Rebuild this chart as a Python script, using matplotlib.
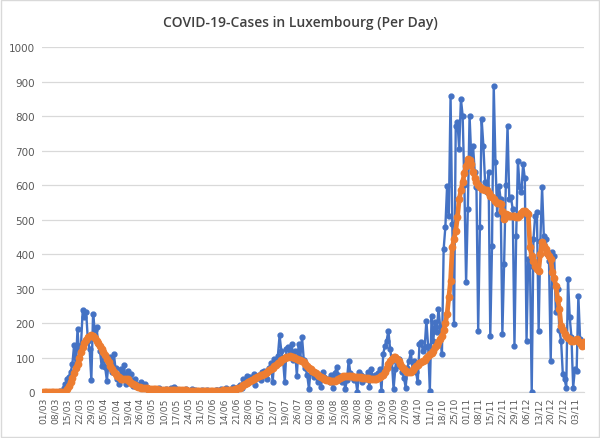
import numpy as np
import matplotlib
matplotlib.use("Agg")
import matplotlib.pyplot as plt
from matplotlib.patches import Rectangle

## daily cases, 01/03 onwards, one row per week
daily = [
    0, 0, 1, 0, 1, 0, 1,
    1, 2, 0, 3, 2, 12, 24,
    39, 45, 58, 81, 136, 73, 184,
    102, 136, 238, 218, 233, 150, 126,
    36, 228, 180, 189, 141, 120, 75,
    107, 73, 34, 87, 102, 60, 112,
    70, 39, 24, 68, 55, 78, 24,
    63, 40, 53, 19, 39, 25, 15,
    22, 30, 15, 24, 10, 12, 8,
    10, 5, 9, 4, 12, 6, 3,
    7, 10, 4, 6, 12, 3, 15,
    10, 5, 8, 3, 6, 4, 11,
    2, 5, 9, 3, 6, 2, 4,
    3, 7, 2, 5, 8, 4, 2,
    5, 3, 8, 6, 2, 10, 4,
    6, 12, 3, 8, 5, 15, 10,
    8, 15, 20, 12, 38, 25, 48,
    30, 45, 38, 52, 20, 42, 50,
    35, 60, 63, 55, 40, 72, 85,
    30, 97, 80, 105, 165, 120, 95,
    29, 125, 131, 110, 141, 95, 120,
    48, 140, 100, 160, 95, 70, 50,
    10, 65, 55, 45, 50, 30, 40,
    15, 58, 45, 35, 40, 30, 50,
    12, 55, 73, 50, 40, 30, 45,
    10, 35, 92, 55, 45, 35, 40,
    2, 58, 50, 30, 45, 40, 60,
    15, 68, 40, 50, 45, 55, 68,
    5, 111, 135, 150, 179, 126, 90,
    10, 68, 80, 97, 75, 60, 43,
    14, 70, 92, 116, 68, 90, 60,
    29, 140, 145, 120, 130, 208, 135,
    5, 222, 150, 203, 175, 242, 190,
    111, 415, 480, 599, 512, 860, 488,
    198, 773, 783, 705, 850, 802, 600,
    319, 531, 802, 680, 715, 640, 594,
    179, 478, 792, 715, 609, 580, 640,
    164, 425, 889, 667, 517, 599, 560,
    169, 372, 602, 773, 560, 565, 530,
    135, 454, 671, 594, 580, 662, 620,
    150, 386, 366, 0, 444, 512, 522,
    179, 440, 594, 454, 444, 400, 380,
    92, 406, 396, 232, 300, 180, 150,
    53, 39, 14, 329, 217, 160, 14,
    68, 63, 280, 155, 135, 145,
]

## average line (orange)
average = [
    0, 0, 0, 0, 0, 0, 0, 0, 0, 0, 0, 0, 0,
    2, 10, 18, 29, 42, 55, 70,
    83, 100, 117, 131, 142, 152, 160,
    163, 165, 162, 157, 150, 142, 134,
    126, 116, 107, 97, 87, 77, 68,
    60, 54, 48, 44, 40, 38, 38,
    40, 38, 33, 27, 23, 20, 17,
    16, 15, 14, 13, 12, 12, 11,
    11, 10, 10, 9, 9, 8, 8,
    8, 8, 7, 7, 7, 7, 7,
    7, 7, 7, 6, 6, 6, 6,
    6, 5, 5, 5, 5, 5, 5,
    4, 4, 4, 4, 4, 4, 4,
    4, 4, 4, 5, 5, 5, 5,
    6, 6, 6, 7, 7, 8, 8,
    9, 10, 12, 14, 17, 20, 24,
    28, 31, 34, 37, 40, 43, 45,
    47, 49, 50, 53, 56, 60, 64,
    68, 72, 76, 80, 84, 89, 94,
    97, 100, 102, 103, 104, 103, 101,
    99, 97, 95, 93, 90, 87, 82,
    77, 72, 67, 63, 59, 55, 51,
    48, 45, 42, 40, 37, 35, 33,
    32, 32, 34, 37, 40, 42, 44,
    46, 47, 48, 48, 47, 46, 45,
    45, 44, 44, 44, 43, 42, 41,
    41, 40, 40, 39, 39, 40, 42,
    44, 47, 50, 58, 70, 82, 92,
    98, 101, 101, 97, 90, 82, 74,
    67, 62, 58, 58, 60, 65, 70,
    75, 80, 84, 87, 90, 95, 100,
    105, 110, 115, 121, 130, 138, 146,
    155, 164, 180, 200, 227, 275, 324,
    420, 445, 469, 507, 560, 585, 609,
    635, 657, 676, 672, 662, 640, 620,
    609, 600, 594, 590, 588, 586, 585,
    578, 570, 565, 560, 555, 550, 548,
    546, 525, 502, 517, 515, 512, 512,
    512, 510, 508, 507, 515, 520, 527,
    525, 520, 517, 420, 396, 380, 365,
    357, 353, 400, 435, 425, 415, 405,
    395, 386, 348, 330, 309, 270, 242,
    193, 180, 170, 164, 158, 154, 150,
    150, 152, 155, 150, 142, 135, 145,
]

tick_labels = ["01/03", "08/03", "15/03", "22/03", "29/03", "05/04", "12/04",
               "19/04", "26/04", "03/05", "10/05", "17/05", "24/05", "31/05",
               "07/06", "14/06", "21/06", "28/06", "05/07", "12/07", "19/07",
               "26/07", "02/08", "09/08", "16/08", "23/08", "30/08", "06/09",
               "13/09", "20/09", "27/09", "04/10", "11/10", "18/10", "25/10",
               "01/11", "08/11", "15/11", "22/11", "29/11", "06/12", "13/12",
               "20/12", "27/12", "03/11"]

assert len(daily) == len(average)
x = np.arange(len(daily))

fig = plt.figure(figsize=(6, 4.39), dpi=100)
ax = fig.add_axes([0.0702, 0.104, 0.974 - 0.0702, 0.786])

ax.plot(x, daily, color="#4472C4", lw=1.7, marker="o", ms=3.5, zorder=3)
ax.plot(x, average, color="#ED7D31", lw=3.4, marker="o", ms=4.6, zorder=4)

ax.set_xlim(-0.5, len(x) - 0.5)
ax.set_ylim(0, 1000)
ax.set_yticks(np.arange(0, 1001, 100))
ax.set_xticks(np.arange(0, len(tick_labels) * 7, 7))
ax.set_xticklabels(tick_labels, rotation=90)
ax.tick_params(axis="x", labelsize=6.6, colors="#595959", length=0, pad=3)
ax.tick_params(axis="y", labelsize=7.5, colors="#595959", length=0, pad=5)
ax.grid(axis="y", color="#D9D9D9", lw=0.9)
ax.set_axisbelow(True)
for s in ["top", "right", "left"]:
    ax.spines[s].set_visible(False)
ax.spines["bottom"].set_color("#D9D9D9")

fig.text(0.5, 0.948, "COVID-19-Cases in Luxembourg (Per Day)", ha="center",
         va="center", fontsize=10, fontweight=600, family="Open Sans",
         color="#404040")

fig.patches.append(Rectangle((0.002, 0.002), 0.996, 0.995, transform=fig.transFigure,
                             fill=False, edgecolor="#D9D9D9", lw=1))

fig.savefig("out.png", dpi=100)
